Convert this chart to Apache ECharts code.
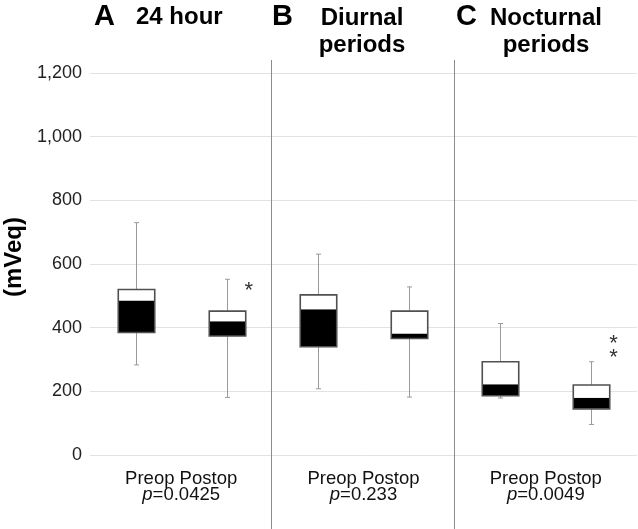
<!DOCTYPE html>
<html>
<head>
<meta charset="utf-8">
<script src="https://cdn.jsdelivr.net/npm/echarts@6/dist/echarts.min.js"></script>
<style>
html,body{margin:0;padding:0;background:#fff;}
#c{width:638px;height:529px;}
</style>
</head>
<body>
<div id="c"></div>
<script>
// ---- data ----
const categories = ['Preop', 'Postop', 'Preop', 'Postop', 'Preop', 'Postop'];
const panels = ['24 hour', 'Diurnal periods', 'Nocturnal periods'];
const panelLetters = ['A', 'B', 'C'];
const pValues = ['0.0425', '0.233', '0.0049'];
const whiskerLow  = [283, 181, 208, 182, 179, 96];
const q1          = [385, 374, 340, 366, 186, 145];
const median      = [485, 420, 458, 382, 222, 180];
const q3          = [520, 452, 503, 452, 293, 220];
const whiskerHigh = [730, 552, 631, 528, 413, 293];
const yTicks = [0, 200, 400, 600, 800, 1000, 1200];
// significance markers: [category index, y value, text]
const sigMarks = [[1, 528, '*'], [5, 361, '*'], [5, 317, '*']];

const FONT = 'Liberation Sans, Arial, sans-serif';

const boxData = categories.map((c, i) => [i, whiskerLow[i], q1[i], median[i], q3[i], whiskerHigh[i]]);

const chart = echarts.init(document.getElementById('c'), null, {renderer: 'canvas'});

const option = {
  animation: false,
  backgroundColor: '#fff',
  graphic: [
    {type: 'text', left: 94, top: 2, style: {text: panelLetters[0], font: 'bold 29px ' + FONT, fill: '#000'}},
    {type: 'text', left: 136, top: 5, style: {text: panels[0], font: 'bold 24px ' + FONT, fill: '#000'}},
    {type: 'text', left: 272, top: 2, style: {text: panelLetters[1], font: 'bold 29px ' + FONT, fill: '#000'}},
    {type: 'text', x: 362, y: 5, style: {text: 'Diurnal\nperiods', font: 'bold 24px ' + FONT, fill: '#000', align: 'center', lineHeight: 27}},
    {type: 'text', left: 456, top: 2, style: {text: panelLetters[2], font: 'bold 29px ' + FONT, fill: '#000'}},
    {type: 'text', x: 546, y: 5, style: {text: 'Nocturnal\nperiods', font: 'bold 24px ' + FONT, fill: '#000', align: 'center', lineHeight: 27}}
  ],
  grid: {left: 90, right: 1, top: 73, bottom: 74, containLabel: false, outerBoundsMode: 'none'},
  xAxis: [
    {type: 'category', data: categories, show: false, boundaryGap: true},
    {
      type: 'category', data: panels, boundaryGap: true, position: 'bottom',
      axisLine: {show: false}, axisTick: {show: false}, splitLine: {show: false},
      axisLabel: {
        margin: 16,
        formatter: (v, i) => '{n|Preop Postop}\n{i|p}{n|=' + pValues[i] + '}',
        rich: {
          n: {fontFamily: FONT, fontSize: 18.5, color: '#111', lineHeight: 16},
          i: {fontFamily: FONT, fontSize: 18.5, color: '#111', fontStyle: 'italic', lineHeight: 16}
        }
      }
    }
  ],
  yAxis: {
    type: 'value',
    min: yTicks[0], max: yTicks[yTicks.length - 1], interval: yTicks[1] - yTicks[0],
    axisLine: {show: false}, axisTick: {show: false},
    splitLine: {lineStyle: {color: '#e2e2e2', width: 1}},
    axisLabel: {
      margin: 8, fontFamily: FONT, fontSize: 18, color: '#222',
      formatter: v => v.toLocaleString('en-US')
    },
    name: '(mVeq)', nameLocation: 'middle', nameRotate: 90, nameGap: 60,
    nameTextStyle: {fontFamily: FONT, fontSize: 24, fontWeight: 'bold', color: '#000', padding: [0, 0, 0, 14]}
  },
  series: [
    {
      type: 'custom', xAxisIndex: 0, data: boxData,
      encode: {x: 0, y: [1, 2, 3, 4, 5]},
      renderItem: function (params, api) {
        const x = api.value(0);
        const lo = api.coord([x, api.value(1)]);
        const a = api.coord([x, api.value(2)]);
        const m = api.coord([x, api.value(3)]);
        const b = api.coord([x, api.value(4)]);
        const hi = api.coord([x, api.value(5)]);
        const bw = api.size([1, 0])[0] * 0.4;
        const cx = Math.round(lo[0]) + 0.5;
        const wStyle = {stroke: '#9a9a9a', lineWidth: 1};
        return {
          type: 'group',
          children: [
            {type: 'line', shape: {x1: cx, y1: hi[1], x2: cx, y2: b[1]}, style: wStyle},
            {type: 'line', shape: {x1: cx, y1: a[1], x2: cx, y2: lo[1]}, style: wStyle},
            {type: 'line', shape: {x1: cx - 2.5, y1: hi[1], x2: cx + 2.5, y2: hi[1]}, style: wStyle},
            {type: 'line', shape: {x1: cx - 2.5, y1: lo[1], x2: cx + 2.5, y2: lo[1]}, style: wStyle},
            {type: 'rect', shape: {x: cx - bw / 2, y: m[1], width: bw, height: a[1] - m[1]}, style: {fill: '#000'}},
            {type: 'rect', shape: {x: cx - bw / 2, y: b[1], width: bw, height: m[1] - b[1]}, style: {fill: '#fff'}},
            {type: 'rect', shape: {x: cx - bw / 2, y: b[1], width: bw, height: a[1] - b[1]}, style: {fill: 'none', stroke: '#505050', lineWidth: 1.6}}
          ]
        };
      },
      z: 3
    },
    {
      type: 'custom', xAxisIndex: 1, data: [[0, 0], [1, 0]],
      encode: {x: 0, y: 1},
      renderItem: function (params, api) {
        const p = api.coord([api.value(0), 0]);
        const x = Math.round(p[0] + api.size([1, 0])[0] / 2) - 0.5;
        return {
          type: 'line',
          shape: {x1: x, y1: params.coordSys.y - 13, x2: x, y2: api.getHeight()},
          style: {stroke: '#8c8c8c', lineWidth: 1}
        };
      },
      z: 2
    },
    {
      type: 'custom', xAxisIndex: 0, data: sigMarks,
      encode: {x: 0, y: 1},
      renderItem: function (params, api) {
        const p = api.coord([api.value(0), api.value(1)]);
        return {
          type: 'text',
          x: p[0] + 22, y: p[1] + 4,
          style: {
            text: sigMarks[params.dataIndex][2],
            font: '22px ' + FONT, fill: '#333',
            align: 'center', verticalAlign: 'middle'
          }
        };
      },
      z: 4
    }
  ]
};
chart.setOption(option);
</script>
</body>
</html>
